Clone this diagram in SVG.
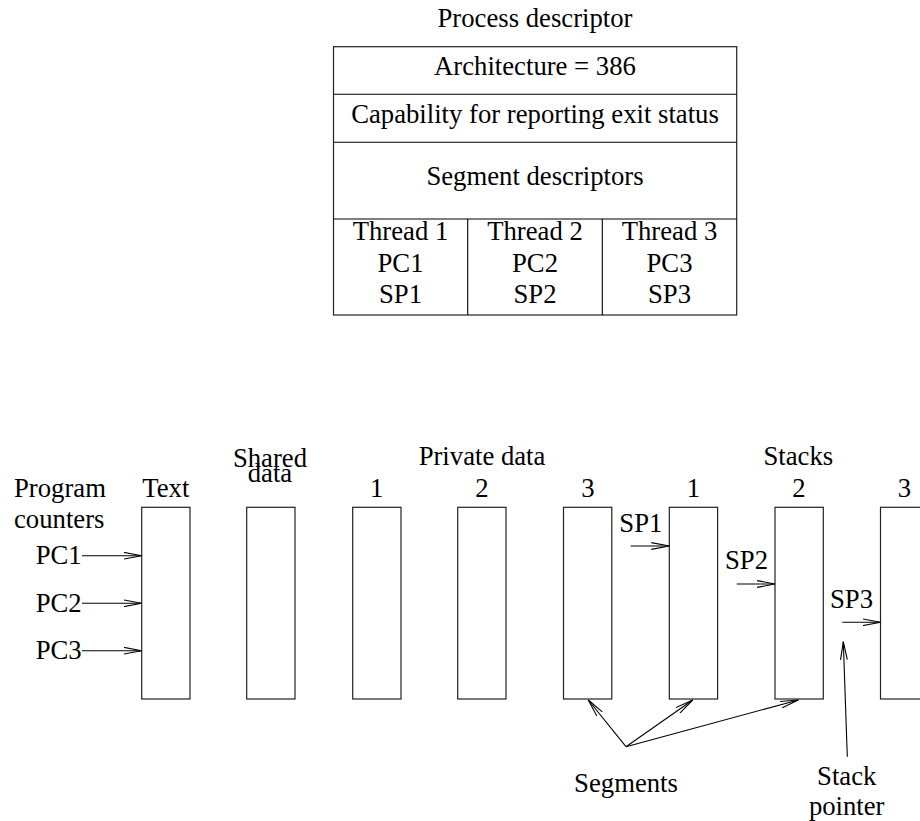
<svg xmlns="http://www.w3.org/2000/svg" width="920" height="821" viewBox="0 0 920 821">
<defs>
<style>
text{font-family:'Liberation Serif','DejaVu Serif',serif;font-size:26.7px;fill:#000}
.c{text-anchor:middle}
.box{fill:#fff;stroke:#222;stroke-width:1.2}
.ln{stroke:#000;stroke-width:1.1;fill:none}
</style>
<marker id="ah" viewBox="0 0 20 8" refX="18" refY="4" markerWidth="20" markerHeight="8" orient="auto" markerUnits="userSpaceOnUse">
<path d="M0,0.6 L18,4 L0,7.4" fill="none" stroke="#000" stroke-width="1.1"/>
</marker>
</defs>
<rect width="920" height="821" fill="#fff"/>

<g id="process-descriptor">
<text class="c" x="535" y="27">Process descriptor</text>
<rect class="box" x="333.5" y="46.7" width="403.2" height="268.3"/>
<line class="ln" x1="333.5" y1="94.3" x2="736.7" y2="94.3"/>
<line class="ln" x1="333.5" y1="142.3" x2="736.7" y2="142.3"/>
<line class="ln" x1="333.5" y1="219" x2="736.7" y2="219"/>
<line class="ln" x1="467.7" y1="219" x2="467.7" y2="315"/>
<line class="ln" x1="602.3" y1="219" x2="602.3" y2="315"/>
<text class="c" x="535" y="75">Architecture = 386</text>
<text class="c" x="535" y="123.3">Capability for reporting exit status</text>
<text class="c" x="535" y="185">Segment descriptors</text>
<text class="c" x="400.5" y="240">Thread 1</text>
<text class="c" x="400.5" y="271.7">PC1</text>
<text class="c" x="400.5" y="303.3">SP1</text>
<text class="c" x="535" y="240">Thread 2</text>
<text class="c" x="535" y="271.7">PC2</text>
<text class="c" x="535" y="303.3">SP2</text>
<text class="c" x="669.5" y="240">Thread 3</text>
<text class="c" x="669.5" y="271.7">PC3</text>
<text class="c" x="669.5" y="303.3">SP3</text>
</g>

<g id="labels">
<text x="14" y="496.7">Program</text>
<text x="14" y="528">counters</text>
<text class="c" x="270" y="466.7">Shared</text>
<text class="c" x="270" y="481.7">data</text>
<text class="c" x="482" y="465">Private data</text>
<text class="c" x="798.3" y="465">Stacks</text>
<text class="c" x="626" y="791.7">Segments</text>
<text class="c" x="846.7" y="785">Stack</text>
<text class="c" x="846.7" y="815">pointer</text>
</g>

<g id="seg-text">
<text class="c" x="165.8" y="496.7">Text</text>
<rect class="box" x="141.7" y="507.3" width="48.3" height="191.7"/>
</g>
<g id="seg-shared">
<rect class="box" x="246.7" y="507.3" width="48.3" height="191.7"/>
</g>
<g id="seg-private1">
<text class="c" x="376.7" y="496.7">1</text>
<rect class="box" x="352.7" y="507.3" width="48.3" height="191.7"/>
</g>
<g id="seg-private2">
<text class="c" x="482" y="496.7">2</text>
<rect class="box" x="457.7" y="507.3" width="48.3" height="191.7"/>
</g>
<g id="seg-private3">
<text class="c" x="587.8" y="496.7">3</text>
<rect class="box" x="563.5" y="507.3" width="48.3" height="191.7"/>
</g>
<g id="seg-stack1">
<text class="c" x="693.3" y="496.7">1</text>
<rect class="box" x="669.3" y="507.3" width="48.3" height="191.7"/>
</g>
<g id="seg-stack2">
<text class="c" x="798.8" y="496.7">2</text>
<rect class="box" x="775" y="507.3" width="48.3" height="191.7"/>
</g>
<g id="seg-stack3">
<text class="c" x="904.3" y="496.7">3</text>
<rect class="box" x="880.5" y="507.3" width="48.3" height="191.7"/>
</g>

<g id="pointer-labels">
<text x="35.7" y="564">PC1</text>
<text x="35.7" y="611.5">PC2</text>
<text x="35.7" y="659">PC3</text>
<text x="619.3" y="531.7">SP1</text>
<text x="725" y="569.3">SP2</text>
<text x="830" y="608.3">SP3</text>
</g>

<g id="connectors">
<line class="ln" x1="82" y1="555.7" x2="141.7" y2="555.7" marker-end="url(#ah)"/>
<line class="ln" x1="82" y1="603.3" x2="141.7" y2="603.3" marker-end="url(#ah)"/>
<line class="ln" x1="82" y1="650.7" x2="141.7" y2="650.7" marker-end="url(#ah)"/>
<line class="ln" x1="630.7" y1="546" x2="669.3" y2="546" marker-end="url(#ah)"/>
<line class="ln" x1="736.7" y1="584" x2="775" y2="584" marker-end="url(#ah)"/>
<line class="ln" x1="842.3" y1="622.3" x2="880.5" y2="622.3" marker-end="url(#ah)"/>
<line class="ln" x1="847.3" y1="756.7" x2="843.3" y2="641.7" marker-end="url(#ah)"/>
<line class="ln" x1="626" y1="746.7" x2="588.3" y2="700" marker-end="url(#ah)"/>
<line class="ln" x1="626" y1="746.7" x2="692.7" y2="700" marker-end="url(#ah)"/>
<line class="ln" x1="626" y1="746.7" x2="798.3" y2="700" marker-end="url(#ah)"/>
</g>
</svg>
